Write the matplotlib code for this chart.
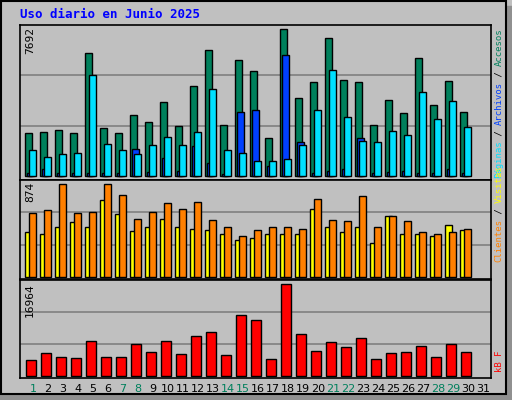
import numpy as np
import matplotlib.pyplot as plt
from matplotlib.patches import Rectangle

days = list(range(1, 32))
weekend = [1, 7, 8, 14, 15, 21, 22, 28, 29]

# 30 days of data (day 31 has none)
hits = [2250, 2300, 2405, 2250, 6430, 2510, 2250, 3190, 2825, 3870,
        2615, 4710, 6590, 2670, 6070, 5490, 1990, 7692, 4080, 4920,
        7220, 5020, 4920, 2670, 3975, 3295, 6170, 3715, 4970, 3350]
files = [160, 370, 150, 150, 150, 150, 150, 1410, 200, 940,
         250, 1570, 680, 100, 3350, 3450, 520, 6330, 1780, 170,
         250, 370, 1990, 150, 200, 250, 150, 150, 370, 150]
pages = [1360, 995, 1150, 1200, 5280, 1675, 1360, 1150, 1620, 2040,
         1620, 2300, 4550, 1360, 1200, 785, 785, 890, 1620, 3450,
         5540, 3085, 1830, 1780, 2350, 2145, 4390, 2980, 3920, 2560]
clients = [420, 410, 476, 514, 467, 722, 590, 429, 467, 543,
           467, 457, 439, 401, 353, 363, 401, 410, 401, 637,
           467, 420, 467, 316, 571, 401, 401, 391, 486, 439]
visits = [599, 628, 874, 599, 609, 874, 770, 543, 609, 694,
          637, 704, 533, 467, 391, 439, 476, 476, 457, 732,
          533, 524, 760, 476, 571, 524, 420, 401, 420, 457]
kbytes = [3030, 4330, 3590, 3400, 6560, 3590, 3590, 6000, 4520, 6560,
          4150, 7490, 8230, 3960, 11200, 10275, 3220, 16964, 7680, 4700,
          6380, 5450, 7120, 3220, 4330, 4520, 5630, 3590, 6000, 4520]

W, H = 512, 400
bg = '#c0c0c0'
fig = plt.figure(figsize=(W / 100, H / 100), dpi=100, facecolor=bg)
fig.patches.append(Rectangle(((W - 6) / W, 0), 6 / W, 1 - 6 / H,
                             transform=fig.transFigure, color='#909090'))
fig.patches.append(Rectangle((0, 0), 1 - 6 / W, 6 / H, transform=fig.transFigure, color='#909090'))
fig.patches.append(Rectangle((1 / W, 6 / H), 1 - 7 / W, 1 - 7 / H, transform=fig.transFigure,
                             facecolor='none', edgecolor='black', lw=1.5))

x = np.arange(30)
slot = 15.0


def panel(top, bottom, pad, ymax_px, vmax):
    ax = fig.add_axes([20 / W, (H - bottom) / H, 471 / W, (bottom - top) / H])
    ax.set_facecolor(bg)
    unit = vmax / ymax_px
    full = bottom - pad - top
    ax.set_ylim(-pad * unit, full * unit)
    ax.set_xlim(-5 / slot, 466 / slot)
    for k in (1, 2):
        ax.axhline(full * unit * k / 3, color='#808080', lw=1.2, zorder=0)
    ax.set_xticks([])
    ax.set_yticks([])
    for s in ax.spines.values():
        s.set_color('black')
        s.set_linewidth(1.2)
    return ax


ax1 = panel(25, 180, 4, 147, 7692)
ax1.bar(x, hits, width=7 / slot, align='edge', color='#00805c', edgecolor='black', lw=1)
ax1.bar(x + 2 / slot, files, width=7 / slot, align='edge', color='#0040ff', edgecolor='black', lw=1)
ax1.bar(x + 4 / slot, pages, width=7 / slot, align='edge', color='#00e0ff', edgecolor='black', lw=1)

ax2 = panel(180, 279, 2, 92.7, 874)
ax2.bar(x, clients, width=7 / slot, align='edge', color='#ffff00', edgecolor='black', lw=1)
ax2.bar(x + 4 / slot, visits, width=7 / slot, align='edge', color='#ff8000', edgecolor='black', lw=1)

ax3 = panel(280, 378, 2, 91.7, 16964)
ax3.bar(x + 1 / slot, kbytes, width=10 / slot, align='edge', color='#ff0000', edgecolor='black', lw=1)

for d in days:
    fig.text((25 + slot * (d - 1) + 8) / W, (H - 389) / H, str(d), ha='center', va='center',
             fontsize=8, color='#00805c' if d in weekend else 'black')

mono = 'DejaVu Sans Mono'
fig.text(20 / W, (H - 15) / H, 'Uso diario en Junio 2025', color='#0000ff', fontsize=9,
         fontweight='bold', family=mono, va='center')
for top, lab in ((27, '7692'), (182, '874'), (283, '16964')):
    fig.text(30 / W, (H - top) / H, lab, rotation=90, ha='center', va='top', fontsize=8, family=mono)

fig.canvas.draw()
r = fig.canvas.get_renderer()


def stack(pieces, y_px, downward):
    y = y_px
    for txt, col in pieces:
        t = fig.text(499 / W, (H - y) / H, txt, rotation=90, ha='center',
                     va='top' if downward else 'bottom', fontsize=6.5, family=mono, color=col)
        h = t.get_window_extent(r).height
        y = y + h if downward else y - h


stack([('Accesos', '#00805c'), (' / ', 'black'), ('Archivos', '#0040ff'),
       (' / ', 'black'), ('Páginas', '#00e0ff')], 28, True)
stack([('Clientes', '#ff8000'), (' / ', 'black'), ('Visitas', '#ffff00')], 262, False)
stack([('kB F', '#ff0000')], 372, False)

fig.savefig('out.png', dpi=100, facecolor=bg)
